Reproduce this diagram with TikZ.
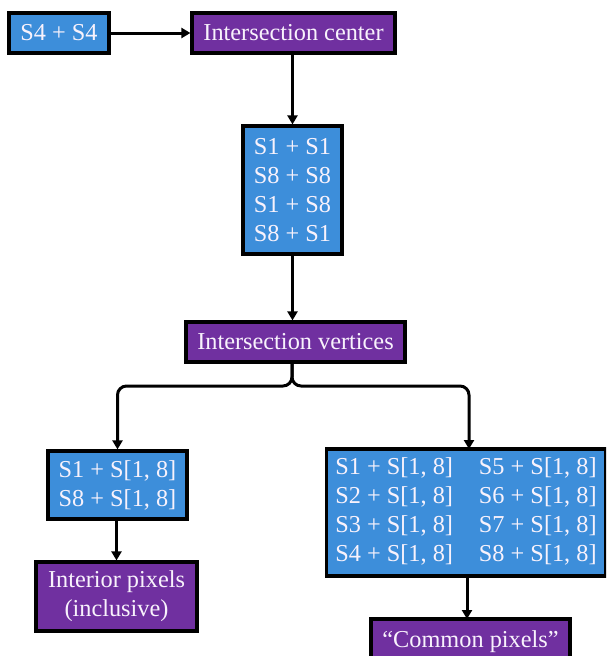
\documentclass[tikz,border=0pt]{standalone}
\usepackage{fontspec}
\setmainfont{Liberation Serif}
\usetikzlibrary{arrows.meta}
\definecolor{boxblue}{RGB}{61,142,218}
\definecolor{boxpurple}{RGB}{112,48,160}
\definecolor{txt}{RGB}{248,242,252}
\begin{document}
\begin{tikzpicture}[x=1pt,y=-1pt,
  base/.style={draw=black, line width=3.2pt, text=txt, inner sep=0pt, align=center,
    font=\fontsize{24.3}{29}\selectfont, anchor=center},
  bluebox/.style={base, fill=boxblue},
  purplebox/.style={base, fill=boxpurple},
  conn/.style={line width=3pt, -{Triangle[length=9pt,width=10pt]}},
]
\useasboundingbox (0,0) rectangle (606,656);
\clip (0,0) rectangle (606,656);
\node[bluebox, minimum width=100pt, minimum height=40pt] (s44) at (59,33) {S4 + S4};
\node[purplebox, minimum width=203pt, minimum height=40pt] (ic) at (293.5,33) {Intersection center};
\node[bluebox, minimum width=99pt, minimum height=128pt] (s18) at (292.5,190) {S1 + S1\\S8 + S8\\S1 + S8\\S8 + S1};
\node[purplebox, minimum width=219pt, minimum height=40pt] (iv) at (295.5,342) {Intersection vertices};
\node[bluebox, minimum width=139pt, minimum height=68pt] (lb) at (117.5,485) {S1 + S[1, 8]\\S8 + S[1, 8]};
\node[purplebox, minimum width=161pt, minimum height=69pt] (ip) at (116.5,596.5) {Interior pixels\\(inclusive)};
\node[bluebox, minimum width=279pt, minimum height=127pt] (rb) at (466,512.5)
  {\begin{tabular}{@{}l@{\hspace{26pt}}l@{}}S1 + S[1, 8] & S5 + S[1, 8]\\S2 + S[1, 8] & S6 + S[1, 8]\\S3 + S[1, 8] & S7 + S[1, 8]\\S4 + S[1, 8] & S8 + S[1, 8]\end{tabular}};
\node[purplebox, minimum width=199pt, minimum height=46pt] (cp) at (470.5,642) {``Common pixels''};
\coordinate (split) at (292,386);
\draw[conn] (s44.east) -- (ic.west);
\draw[conn] (ic.south -| s18.north) -- (s18.north);
\draw[conn] (s18.south) -- (s18.south |- iv.north);
\draw[conn, rounded corners=9pt] (split |- iv.south) -- (split) -- (split -| lb.north) -- (lb.north);
\draw[conn, rounded corners=9pt] (split |- iv.south) -- (split) -- (469,386) -- (469,449);
\draw[conn] (lb.south -| ip.north) -- (ip.north);
\draw[conn] (467,576) -- (467,619);
\end{tikzpicture}
\end{document}
